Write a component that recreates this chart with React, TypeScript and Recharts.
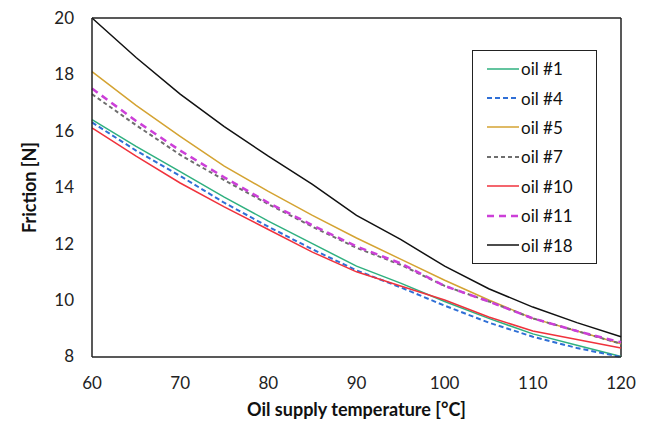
import { LineChart, Line, XAxis, YAxis, Legend, ReferenceLine } from "recharts";

const temps = [60, 65, 70, 75, 80, 85, 90, 95, 100, 105, 110, 115, 120];

const oil1 = [16.4, 15.45, 14.55, 13.65, 12.8, 12.0, 11.2, 10.6, 9.95, 9.35, 8.8, 8.4, 8.0];
const oil4 = [16.3, 15.3, 14.4, 13.45, 12.6, 11.8, 11.05, 10.45, 9.8, 9.2, 8.7, 8.3, 7.98];
const oil5 = [18.1, 16.9, 15.8, 14.75, 13.85, 13.0, 12.2, 11.45, 10.7, 10.0, 9.35, 8.9, 8.45];
const oil7 = [17.3, 16.2, 15.15, 14.25, 13.4, 12.6, 11.85, 11.25, 10.5, 9.95, 9.35, 8.9, 8.45];
const oil10 = [16.1, 15.1, 14.15, 13.3, 12.5, 11.7, 11.0, 10.5, 10.0, 9.4, 8.9, 8.6, 8.3];
const oil11 = [17.5, 16.35, 15.3, 14.35, 13.45, 12.65, 11.9, 11.3, 10.5, 9.95, 9.35, 8.9, 8.5];
const oil18 = [20.0, 18.6, 17.3, 16.15, 15.1, 14.1, 13.0, 12.15, 11.2, 10.4, 9.75, 9.2, 8.7];

const xTicks = [60, 70, 80, 90, 100, 110, 120];
const yTicks = [8, 10, 12, 14, 16, 18, 20];

const series = [
  { key: "oil1", name: "oil #1", values: oil1, color: "#2fb07f", dash: undefined, width: 1.5 },
  { key: "oil4", name: "oil #4", values: oil4, color: "#2f6fd6", dash: "5 3", width: 2 },
  { key: "oil5", name: "oil #5", values: oil5, color: "#d4a332", dash: undefined, width: 1.5 },
  { key: "oil7", name: "oil #7", values: oil7, color: "#6e6e6e", dash: "4 3", width: 2 },
  { key: "oil10", name: "oil #10", values: oil10, color: "#f0323c", dash: undefined, width: 1.5 },
  { key: "oil11", name: "oil #11", values: oil11, color: "#cc3fd8", dash: "7 5", width: 2.5 },
  { key: "oil18", name: "oil #18", values: oil18, color: "#111111", dash: undefined, width: 1.5 },
];

const data = temps.map((t, i) => {
  const row: Record<string, number> = { temp: t };
  series.forEach((s) => {
    row[s.key] = s.values[i];
  });
  return row;
});

const FONT = "Lato, 'Open Sans', sans-serif";

function LegendBox() {
  return (
    <div
      style={{
        border: "1.5px solid #222",
        background: "#fff",
        width: 125,
        height: 214,
        boxSizing: "border-box",
        padding: "3px 0 0 14px",
        fontFamily: FONT,
        fontSize: 17,
        color: "#111",
        textAlign: "left",
      }}
    >
      {series.map((s) => (
        <div key={s.key} style={{ display: "flex", alignItems: "center", height: 29.4 }}>
          <svg width={32} height={10} style={{ marginRight: 2 }}>
            <line
              x1={0}
              y1={5}
              x2={32}
              y2={5}
              stroke={s.color}
              strokeWidth={s.width}
              strokeDasharray={s.dash}
            />
          </svg>
          <span>{s.name}</span>
        </div>
      ))}
    </div>
  );
}

export default function App() {
  return (
    <div style={{ position: "absolute", left: 0, top: 0, background: "#fff" }}>
      <LineChart
        width={646}
        height={428}
        data={data}
        margin={{ top: 18, right: 25, bottom: 14, left: 0 }}
      >
        <XAxis
          dataKey="temp"
          type="number"
          domain={[60, 120]}
          ticks={xTicks}
          tickLine={false}
          axisLine={{ stroke: "#222", strokeWidth: 1.5 }}
          tick={{ fontSize: 17, fill: "#222", fontFamily: FONT }}
          tickMargin={14}
          height={57}
          label={{
            value: "Oil supply temperature [°C]",
            position: "insideBottom",
            offset: -2,
            style: { fontSize: 18, fontWeight: "bold", fill: "#111", fontFamily: FONT },
          }}
        />
        <YAxis
          type="number"
          domain={[8, 20]}
          ticks={yTicks}
          tickLine={false}
          axisLine={{ stroke: "#222", strokeWidth: 1.5 }}
          tick={{ fontSize: 17, fill: "#222", fontFamily: FONT }}
          tickMargin={12}
          width={92}
          label={{
            value: "Friction [N]",
            angle: -90,
            position: "insideLeft",
            offset: 30,
            style: { fontSize: 18, fontWeight: "bold", fill: "#111", fontFamily: FONT, textAnchor: "middle" },
          }}
        />
        <ReferenceLine y={20} stroke="#222" strokeWidth={1.5} />
        <ReferenceLine x={120} stroke="#222" strokeWidth={1.5} />
        {series.map((s) => (
          <Line
            key={s.key}
            type="linear"
            dataKey={s.key}
            name={s.name}
            stroke={s.color}
            strokeWidth={s.width}
            strokeDasharray={s.dash}
            dot={false}
            isAnimationActive={false}
          />
        ))}
        <Legend
          layout="horizontal"
          align="center"
          verticalAlign="middle"
          content={() => <LegendBox />}
          wrapperStyle={{ left: 472, top: 50, width: 125, height: 214 }}
        />
      </LineChart>
    </div>
  );
}
